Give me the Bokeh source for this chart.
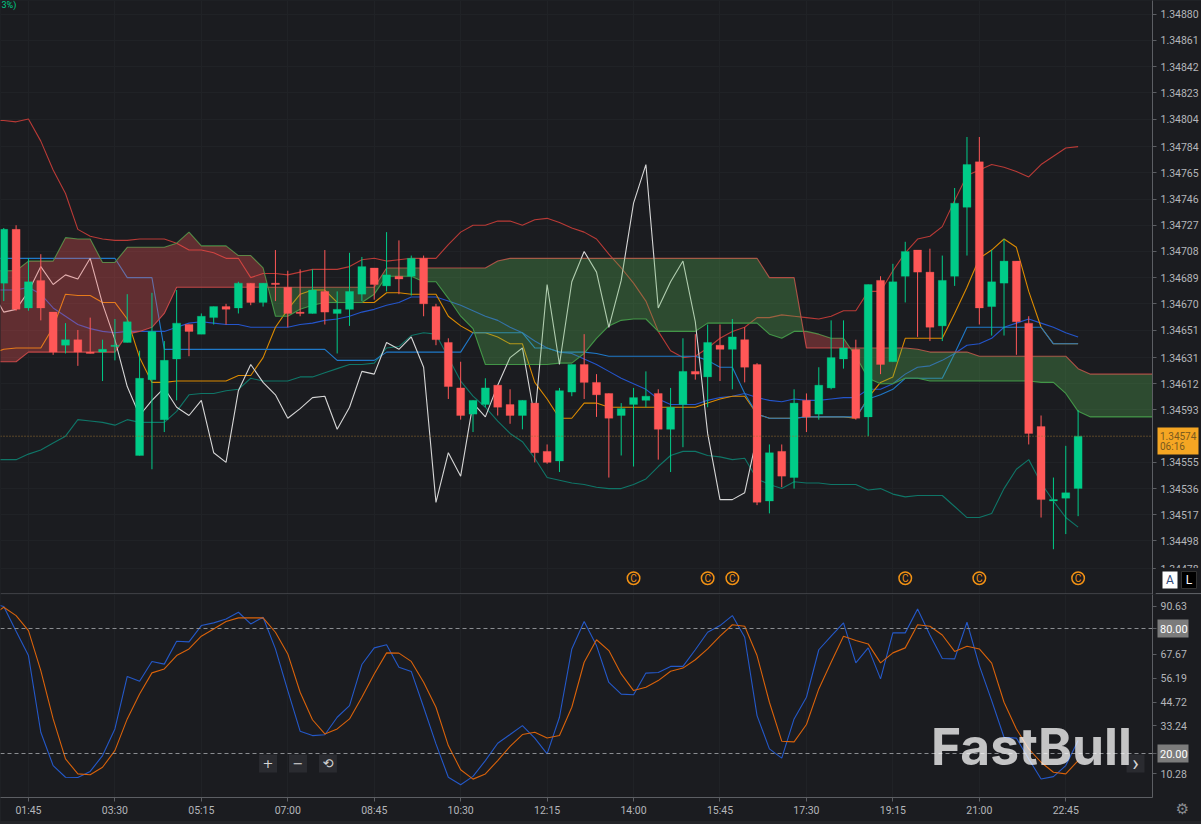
import numpy as np
from bokeh.plotting import figure
from bokeh.layouts import column
from bokeh.core.properties import value
from bokeh.models import Range1d, FixedTicker, Span, Label, BoxAnnotation, PrintfTickFormatter
from bokeh.embed import file_html
from bokeh.resources import INLINE

time_ticks = ["01:45","03:30","05:15","07:00","08:45","10:30","12:15","14:00","15:45","17:30","19:15","21:00","22:45"]
price_ticks = [1.34880,1.34861,1.34842,1.34823,1.34804,1.34784,1.34765,1.34746,1.34727,1.34708,1.34689,1.34670,1.34651,1.34631,1.34612,1.34593,1.34555,1.34536,1.34517,1.34498,1.34478]
stoch_ticks = [90.63,80.00,67.67,56.19,44.72,33.24,20.00,10.28]
last_price = 1.34574

open_ = [1.34685,1.34724,1.34667,1.34687,1.34664,1.34640,1.34644,1.34635,1.34635,1.34639,
1.34642,1.34560,1.34615,1.34586,1.34630,1.34655,1.34648,1.34660,1.34668,1.34667,
1.34685,1.34671,1.34685,1.34682,1.34664,1.34663,1.34679,1.34663,1.34666,1.34677,
1.34696,1.34683,1.34690,1.34690,1.34703,1.34668,1.34642,1.34609,1.34590,1.34597,
1.34611,1.34597,1.34589,1.34598,1.34563,1.34556,1.34606,1.34626,1.34613,1.34605,
1.34589,1.34597,1.34600,1.34605,1.34579,1.34597,1.34621,1.34617,1.34640,1.34637,
1.34644,1.34626,1.34527,1.34563,1.34544,1.34600,1.34590,1.34609,1.34630,1.34637,
1.34588,1.34687,1.34628,1.34690,1.34709,1.34693,1.34654,1.34690,1.34740,1.34773,
1.34668,1.34685,1.34701,1.34656,1.34581,1.34527,1.34529,1.34536]
high = [1.34725,1.34727,1.34703,1.34706,1.34664,1.34656,1.34651,1.34660,1.34644,1.34659,
1.34677,1.34636,1.34678,1.34643,1.34680,1.34655,1.34663,1.34668,1.34670,1.34686,
1.34685,1.34685,1.34709,1.34694,1.34695,1.34695,1.34709,1.34679,1.34707,1.34704,
1.34696,1.34722,1.34716,1.34705,1.34705,1.34670,1.34645,1.34628,1.34600,1.34616,
1.34611,1.34608,1.34600,1.34598,1.34568,1.34609,1.34626,1.34648,1.34619,1.34605,
1.34598,1.34609,1.34621,1.34608,1.34609,1.34645,1.34648,1.34655,1.34655,1.34659,
1.34653,1.34627,1.34568,1.34568,1.34608,1.34605,1.34624,1.34658,1.34658,1.34644,
1.34684,1.34690,1.34699,1.34715,1.34709,1.34710,1.34705,1.34754,1.34791,1.34791,
1.34709,1.34717,1.34701,1.34661,1.34589,1.34544,1.34567,1.34593]
low = [1.34672,1.34665,1.34665,1.34658,1.34633,1.34634,1.34625,1.34634,1.34614,1.34629,
1.34642,1.34560,1.34550,1.34577,1.34600,1.34632,1.34648,1.34655,1.34655,1.34663,
1.34669,1.34668,1.34672,1.34653,1.34661,1.34663,1.34655,1.34634,1.34654,1.34672,
1.34673,1.34679,1.34677,1.34676,1.34661,1.34640,1.34601,1.34586,1.34577,1.34595,
1.34589,1.34583,1.34579,1.34555,1.34554,1.34548,1.34603,1.34601,1.34588,1.34544,
1.34560,1.34552,1.34595,1.34557,1.34548,1.34566,1.34615,1.34595,1.34614,1.34608,
1.34613,1.34524,1.34518,1.34537,1.34536,1.34577,1.34586,1.34608,1.34623,1.34586,
1.34574,1.34619,1.34628,1.34671,1.34646,1.34643,1.34643,1.34683,1.34705,1.34655,
1.34647,1.34647,1.34633,1.34568,1.34515,1.34492,1.34503,1.34516]
close = [1.34724,1.34666,1.34686,1.34667,1.34635,1.34644,1.34635,1.34634,1.34637,1.34640,
1.34657,1.34616,1.34650,1.34629,1.34656,1.34650,1.34661,1.34668,1.34666,1.34685,
1.34671,1.34685,1.34684,1.34663,1.34663,1.34680,1.34664,1.34666,1.34679,1.34697,
1.34684,1.34691,1.34688,1.34703,1.34670,1.34644,1.34610,1.34589,1.34600,1.34609,
1.34595,1.34589,1.34600,1.34562,1.34555,1.34607,1.34626,1.34613,1.34604,1.34587,
1.34594,1.34602,1.34603,1.34579,1.34595,1.34621,1.34619,1.34642,1.34637,1.34646,
1.34624,1.34526,1.34562,1.34545,1.34598,1.34588,1.34611,1.34631,1.34638,1.34587,
1.34684,1.34626,1.34686,1.34708,1.34693,1.34653,1.34687,1.34743,1.34771,1.34667,
1.34686,1.34701,1.34657,1.34576,1.34528,1.34528,1.34533,1.34574]

# indicator series start one bar before the first candle
bb_upper = [1.34803,1.34803,1.34802,1.34804,1.34788,1.34767,1.34750,1.34724,1.34719,1.34717,1.34716,
1.34716,1.34717,1.34717,1.34717,1.34714,1.34709,1.34709,1.34707,1.34703,1.34703,
1.34689,1.34692,1.34692,1.34691,1.34693,1.34695,1.34695,1.34695,1.34697,1.34702,
1.34703,1.34701,1.34702,1.34703,1.34703,1.34703,1.34713,1.34722,1.34727,1.34727,
1.34730,1.34730,1.34727,1.34731,1.34732,1.34729,1.34725,1.34722,1.34717,1.34706,
1.34696,1.34685,1.34672,1.34650,1.34636,1.34631,1.34632,1.34638,1.34645,1.34650,
1.34653,1.34660,1.34660,1.34662,1.34661,1.34660,1.34659,1.34661,1.34665,1.34665,
1.34679,1.34679,1.34694,1.34707,1.34717,1.34719,1.34726,1.34745,1.34763,1.34767,
1.34771,1.34769,1.34766,1.34762,1.34771,1.34777,1.34783,1.34784]
bb_lower = [1.34557,1.34557,1.34557,1.34561,1.34564,1.34569,1.34574,1.34586,1.34585,1.34584,1.34582,
1.34586,1.34584,1.34584,1.34584,1.34592,1.34604,1.34605,1.34605,1.34607,1.34608,
1.34616,1.34614,1.34614,1.34614,1.34617,1.34617,1.34620,1.34623,1.34626,1.34626,
1.34627,1.34638,1.34639,1.34647,1.34649,1.34648,1.34631,1.34614,1.34603,1.34595,
1.34585,1.34576,1.34570,1.34558,1.34544,1.34542,1.34540,1.34539,1.34537,1.34536,
1.34536,1.34539,1.34543,1.34552,1.34560,1.34563,1.34563,1.34560,1.34559,1.34557,
1.34558,1.34543,1.34539,1.34536,1.34541,1.34540,1.34540,1.34539,1.34539,1.34539,
1.34535,1.34536,1.34532,1.34530,1.34531,1.34531,1.34531,1.34523,1.34515,1.34515,
1.34518,1.34536,1.34550,1.34557,1.34540,1.34527,1.34515,1.34508]
bb_mid = [1.34680,1.34680,1.34680,1.34682,1.34677,1.34667,1.34661,1.34655,1.34652,1.34650,1.34649,
1.34650,1.34650,1.34650,1.34650,1.34653,1.34656,1.34657,1.34656,1.34655,1.34655,
1.34653,1.34653,1.34653,1.34653,1.34655,1.34656,1.34658,1.34659,1.34661,1.34664,
1.34666,1.34669,1.34671,1.34675,1.34675,1.34675,1.34672,1.34669,1.34665,1.34661,
1.34658,1.34653,1.34649,1.34643,1.34638,1.34635,1.34634,1.34630,1.34626,1.34621,
1.34616,1.34612,1.34608,1.34601,1.34597,1.34597,1.34597,1.34600,1.34602,1.34603,
1.34605,1.34602,1.34600,1.34599,1.34601,1.34600,1.34600,1.34601,1.34602,1.34602,
1.34608,1.34608,1.34612,1.34619,1.34624,1.34625,1.34629,1.34634,1.34640,1.34641,
1.34645,1.34653,1.34656,1.34659,1.34656,1.34653,1.34649,1.34646]
tenkan = [1.34634,1.34637,1.34638,1.34638,1.34638,1.34653,1.34677,1.34676,1.34676,1.34671,1.34671,
1.34659,1.34631,1.34613,1.34613,1.34614,1.34614,1.34614,1.34614,1.34614,1.34618,
1.34618,1.34631,1.34653,1.34666,1.34677,1.34680,1.34680,1.34671,1.34671,1.34671,
1.34671,1.34678,1.34678,1.34677,1.34677,1.34677,1.34661,1.34654,1.34649,1.34649,
1.34646,1.34641,1.34641,1.34613,1.34601,1.34587,1.34587,1.34598,1.34598,1.34595,
1.34595,1.34595,1.34595,1.34595,1.34595,1.34595,1.34595,1.34598,1.34601,1.34603,
1.34603,1.34590,1.34587,1.34587,1.34587,1.34588,1.34588,1.34588,1.34588,1.34587,
1.34602,1.34613,1.34617,1.34645,1.34645,1.34645,1.34645,1.34663,1.34682,1.34703,
1.34709,1.34717,1.34711,1.34679,1.34653,1.34641,1.34641,1.34641]
kijun = [1.34703,1.34703,1.34703,1.34703,1.34703,1.34703,1.34703,1.34703,1.34703,1.34703,1.34703,
1.34689,1.34689,1.34689,1.34637,1.34637,1.34637,1.34637,1.34637,1.34637,1.34637,
1.34637,1.34637,1.34637,1.34637,1.34637,1.34637,1.34637,1.34629,1.34629,1.34629,
1.34629,1.34635,1.34635,1.34635,1.34635,1.34635,1.34635,1.34635,1.34649,1.34649,
1.34649,1.34649,1.34649,1.34638,1.34638,1.34635,1.34635,1.34635,1.34634,1.34632,
1.34632,1.34632,1.34632,1.34632,1.34632,1.34632,1.34632,1.34629,1.34624,1.34624,
1.34605,1.34590,1.34587,1.34587,1.34587,1.34588,1.34588,1.34588,1.34588,1.34588,
1.34601,1.34604,1.34608,1.34616,1.34616,1.34616,1.34616,1.34634,1.34653,1.34653,
1.34653,1.34653,1.34653,1.34653,1.34653,1.34641,1.34641,1.34641]
senkou_a = [1.34694,1.34694,1.34694,1.34701,1.34701,1.34701,1.34718,1.34717,1.34717,1.34700,1.34700,
1.34711,1.34711,1.34711,1.34711,1.34714,1.34722,1.34712,1.34712,1.34712,1.34705,
1.34705,1.34696,1.34661,1.34661,1.34666,1.34669,1.34671,1.34671,1.34671,1.34671,
1.34677,1.34690,1.34690,1.34690,1.34686,1.34686,1.34674,1.34661,1.34652,1.34626,
1.34626,1.34626,1.34626,1.34626,1.34626,1.34627,1.34627,1.34634,1.34645,1.34654,
1.34658,1.34659,1.34659,1.34650,1.34650,1.34650,1.34650,1.34656,1.34656,1.34656,
1.34656,1.34656,1.34648,1.34645,1.34650,1.34650,1.34648,1.34645,1.34645,1.34632,
1.34616,1.34612,1.34612,1.34616,1.34616,1.34614,1.34614,1.34614,1.34614,1.34614,
1.34614,1.34614,1.34614,1.34614,1.34613,1.34613,1.34605,1.34592,1.34588,1.34588,
1.34588,1.34588,1.34588,1.34588]
senkou_b = [1.34628,1.34628,1.34628,1.34635,1.34635,1.34635,1.34635,1.34635,1.34635,1.34635,1.34635,
1.34648,1.34650,1.34653,1.34663,1.34682,1.34682,1.34682,1.34682,1.34682,1.34682,
1.34682,1.34682,1.34682,1.34682,1.34682,1.34682,1.34682,1.34682,1.34682,1.34682,
1.34682,1.34696,1.34696,1.34696,1.34696,1.34696,1.34696,1.34696,1.34696,1.34696,
1.34701,1.34703,1.34703,1.34703,1.34703,1.34703,1.34703,1.34703,1.34703,1.34703,
1.34703,1.34703,1.34703,1.34703,1.34703,1.34703,1.34703,1.34703,1.34703,1.34703,
1.34703,1.34703,1.34689,1.34689,1.34689,1.34638,1.34638,1.34638,1.34638,1.34638,
1.34638,1.34638,1.34638,1.34638,1.34637,1.34635,1.34635,1.34635,1.34635,1.34632,
1.34632,1.34632,1.34632,1.34632,1.34632,1.34632,1.34632,1.34623,1.34619,1.34619,
1.34619,1.34619,1.34619,1.34619]
stoch_k = [92.0,90.6,78.7,67.0,30.2,14.2,8.6,8.5,11.4,19.0,31.8,57.0,54.7,64.2,62.9,73.9,73.6,81.4,82.7,84.6,87.8,
82.2,85.4,70.2,50.2,30.7,28.6,29.0,37.4,43.0,62.7,70.7,72.2,61.4,59.4,42.2,24.6,8.6,5.0,9.0,16.6,
24.9,29.1,33.4,27.4,19.8,37.4,70.2,83.4,71.8,54.1,48.5,48.2,58.6,58.9,61.8,61.8,69.8,78.2,81.4,86.2,
75.8,38.2,22.2,17.8,36.6,47.0,69.8,76.3,82.7,63.5,70.7,55.8,77.9,77.9,89.4,76.9,65.6,65.4,83.0,62.2,
45.4,27.8,27.4,17.4,7.8,8.9,14.2,26.2]
stoch_d = [86.0,90.2,86.2,79.0,59.8,36.6,17.4,10.2,9.8,13.4,21.4,36.6,48.6,58.7,60.6,67.0,70.2,76.3,79.8,83.4,85.1,
85.1,85.1,78.2,67.8,49.4,36.2,29.4,31.8,36.6,47.0,58.2,68.3,68.2,64.2,54.2,42.2,23.8,12.2,7.7,10.2,
16.6,23.4,29.1,30.2,27.4,28.6,42.2,63.8,74.6,69.4,58.2,50.2,51.8,55.0,59.5,61.0,65.0,70.2,76.3,81.8,
81.1,67.0,44.6,25.9,25.6,33.9,51.0,63.8,76.3,74.2,72.6,63.5,68.3,70.7,81.8,81.1,76.9,69.0,71.5,70.2,
63.4,44.6,31.8,22.2,15.8,11.0,10.2,16.6]
event_bars = [51,57,59,73,79,87]
event_price = 1.34471

BG = "#1B1C20"; GRID = "#202226"; AXIS = "#5C5E63"; TXT = "#B4B6BA"
UP = "#00CC88"; DOWN = "#FF5757"
FONT = "Roboto"; FS = "10.5px"

# layout helpers: screen pixel -> axis value
PX_MIN = 0.8247            # px per minute
X0 = 105 - 28 / PX_MIN
def X(px): return X0 + px / PX_MIN
TOP1 = 1.34890; PPX = 0.7259e-5
def Y1(px): return TOP1 - px * PPX
def Y2(px): return 80 + (628 - px) * 0.48

n = len(close)
t = 75 + 15 * np.arange(n)
t_line = 60 + 15 * np.arange(n + 1)
t_cloud = 60 + 15 * np.arange(len(senkou_a))
tick_min = [int(s[:2]) * 60 + int(s[3:]) for s in time_ticks]
overrides = {m: s for m, s in zip(tick_min, time_ticks)}

W = 1201; FW = 1154
xr = Range1d(X(0), X(FW))
p1 = figure(width=W, height=594, x_range=xr, y_range=Range1d(Y1(593.5), TOP1),
            y_axis_location="right", toolbar_location=None, output_backend="svg",
            background_fill_color=BG, border_fill_color=BG, min_border=0, min_border_right=W-FW)
p1.outline_line_color = None
p1.xaxis.visible = False
p1.xgrid.ticker = FixedTicker(ticks=tick_min)
p1.grid.grid_line_color = GRID
ax = p1.yaxis[0]
ax.ticker = FixedTicker(ticks=price_ticks)
ax.formatter = PrintfTickFormatter(format="%.5f")
ax.axis_line_color = AXIS; ax.major_tick_line_color = AXIS; ax.minor_tick_line_color = None
ax.major_tick_out = 4; ax.major_tick_in = 0; ax.major_label_standoff = 4
ax.major_label_text_color = TXT; ax.major_label_text_font = FONT; ax.major_label_text_font_size = FS

# indicators
p1.line(t_line, bb_upper, line_color="#B93A36", line_width=1.1)
p1.line(t_line, bb_lower, line_color="#0F7567", line_width=1.1)
p1.line(t_line, bb_mid, line_color="#2455CC", line_width=1.1)
p1.line(t_line, tenkan, line_color="#DB8A00", line_width=1.1)
p1.line(t_line, kijun, line_color="#1F78C8", line_width=1.1)
p1.line(t_cloud, senkou_a, line_color="#3F8F45", line_width=1.1)
p1.line(t_cloud, senkou_b, line_color="#B84444", line_width=1.1)
p1.line(t_line[:n-25], close[25:], line_color="#D6D6D6", line_width=1.1)

# cloud: red where A above B, green where B above A
a = np.array(senkou_a); b = np.array(senkou_b)
cx, ca, cb = [], [], []
for i in range(len(a)):
    cx.append(t_cloud[i]); ca.append(a[i]); cb.append(b[i])
    if i + 1 < len(a) and (a[i] - b[i]) * (a[i+1] - b[i+1]) < 0:
        f = (a[i] - b[i]) / ((a[i] - b[i]) - (a[i+1] - b[i+1]))
        cx.append(t_cloud[i] + 15 * f)
        v = a[i] + f * (a[i+1] - a[i]); ca.append(v); cb.append(v)
ca = np.array(ca); cb = np.array(cb)
p1.varea(cx, y1=cb, y2=np.maximum(ca, cb), fill_color="#FF5757", fill_alpha=0.31)
p1.varea(cx, y1=cb, y2=np.minimum(ca, cb), fill_color="#5AB955", fill_alpha=0.30)

p1.add_layout(Span(location=last_price, dimension="width", line_color="#9A7230", line_width=1, line_dash="1 2"))

# candles
colors = [UP if c >= o else DOWN for o, c in zip(open_, close)]
p1.segment(t, high, t, low, line_color=colors, line_width=1)
p1.vbar(t, 9.7, open_, close, fill_color=colors, line_color=colors, line_width=0.3)

# events
ex = [int(t[i]) for i in event_bars]
p1.scatter(ex, [event_price]*len(ex), marker="circle", size=12.5, fill_color=None, line_color="#F39214", line_width=1.5)
for m in ex:
    p1.add_layout(Label(x=m, y=event_price, text="C", text_color="#F39214", text_font="Roboto", text_font_size="10px",
                        text_align="center", text_baseline="middle"))

p1.add_layout(Label(x=X(1), y=Y1(4.5), text="3%)", text_color="#00CC88", text_font=FONT, text_font_size="9px",
                    text_baseline="middle"))
p1.add_layout(Span(location=Y1(593), dimension="width", line_color=AXIS, line_width=1))

# oscillator
p2 = figure(width=W, height=227, x_range=xr, y_range=Range1d(Y2(797), Y2(594)),
            y_axis_location="right", toolbar_location=None, output_backend="svg",
            background_fill_color=BG, border_fill_color=BG, min_border=0, min_border_right=W-FW, min_border_bottom=24)
p2.outline_line_color = None
p2.grid.grid_line_color = GRID
p2.ygrid.grid_line_color = None
bx = p2.xaxis[0]
bx.ticker = FixedTicker(ticks=tick_min); bx.major_label_overrides = overrides
bx.axis_line_color = AXIS; bx.major_tick_line_color = AXIS; bx.minor_tick_line_color = None
bx.major_tick_out = 4; bx.major_tick_in = 0; bx.major_label_standoff = 2
bx.major_label_text_color = TXT; bx.major_label_text_font = FONT; bx.major_label_text_font_size = FS
ay = p2.yaxis[0]
ay.ticker = FixedTicker(ticks=stoch_ticks); ay.formatter = PrintfTickFormatter(format="%.2f")
ay.axis_line_color = AXIS; ay.major_tick_line_color = AXIS; ay.minor_tick_line_color = None
ay.major_tick_out = 4; ay.major_tick_in = 0; ay.major_label_standoff = 4
ay.major_label_text_color = TXT; ay.major_label_text_font = FONT; ay.major_label_text_font_size = FS

p2.add_layout(Span(location=80, dimension="width", line_color="#8A8C90", line_width=1, line_dash="4 3"))
p2.add_layout(Span(location=20, dimension="width", line_color="#8A8C90", line_width=1, line_dash="4 3"))
p2.line(t_line, stoch_k, line_color="#2458C8", line_width=1.1)
p2.line(t_line, stoch_d, line_color="#D9620A", line_width=1.1)

for px, s, fs, fn in ((268, "+", "13px", "DejaVu Sans"), (298, "\u2212", "13px", "DejaVu Sans"),
                      (328, "\u27F2", "13px", "DejaVu Sans"), (1137, "\u203A", "22px", "Roboto")):
    p2.add_layout(BoxAnnotation(left=X(px-9), right=X(px+9), top=Y2(754), bottom=Y2(772), fill_color="#2A2B30", fill_alpha=1, line_alpha=0))
    p2.add_layout(Label(x=X(px), y=Y2(763), text=s, text_color="#D5D5D5", text_font=fn, text_font_size=fs, text_align="center", text_baseline="middle"))

p2.add_layout(Label(x=X(932), y=Y2(745), text="FastBull", text_color="#FFFFFF", text_alpha=0.74, text_font="Inter", text_font_style="bold",
                    text_font_size="51.5px", text_baseline="middle"))

# overlay strip over the right-hand axes: price flag, level flags, A/L buttons, settings icon
p3 = figure(width=46, height=824, x_range=Range1d(1155, 1201), y_range=Range1d(824, 0),
            x_axis_type=None, y_axis_type=None, toolbar_location=None, output_backend="svg",
            background_fill_alpha=0, border_fill_alpha=0, min_border=0)
p3.outline_line_color = None
p3.grid.visible = False
p3.styles = {"position": "fixed", "left": "1155px", "top": "0px", "width": "46px", "height": "824px", "z-index": "10"}
def box(l, r, t_, b_, col, line=None):
    p3.quad(left=[l], right=[r], top=[t_], bottom=[b_], fill_color=col, line_color=line)
def txt(x_, y_, s, col, size=FS, font=FONT, align="left"):
    p3.text([x_], [y_], text=[s], text_color=col, text_font=value(font), text_font_size=size, text_align=align, text_baseline="middle")
box(1155, 1201, 567.5, 592.5, BG)
p3.segment([1155], [593], [1201], [593], line_color=AXIS, line_width=1)
box(1157, 1198, 427, 454, "#F5A623")
txt(1159.5, 435, "1.34574", "#7A5A1E", size="10px")
txt(1159.5, 446, "06:16", "#7A5A1E", size="10px")
box(1162, 1177, 571, 588, "#FFFFFF")
txt(1169.5, 579.5, "A", "#2F4A78", size="12px", align="center")
box(1181, 1196, 571, 588, "#000000", line="#333333")
txt(1188.5, 579.5, "L", "#FFFFFF", size="12px", align="center")
for lv, py in ((80, 628), (20, 753)):
    box(1157, 1188, py-9, py+9, "#7C7C7C")
    txt(1159.5, py, "%.2f" % lv, "#FFFFFF", size="11px")
txt(1182, 808, "\u2699", "#8A8C90", size="15px", font="DejaVu Sans", align="center")

root = column(p1, p2, spacing=0)
root.styles = {"position": "fixed", "left": "0px", "top": "0px", "height": "824px", "background-color": "#232428"}
open("out.html", "w").write(file_html([root, p3], INLINE))
